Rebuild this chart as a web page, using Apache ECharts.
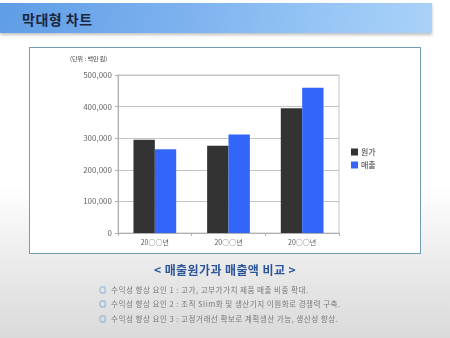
<!DOCTYPE html>
<html><head><meta charset="utf-8">
<script src="https://cdn.jsdelivr.net/npm/echarts@6/dist/echarts.min.js"></script>
<style>
html,body{margin:0;padding:0;width:450px;height:338px;overflow:hidden;font-family:"Noto Sans CJK KR",sans-serif;}
body{background:linear-gradient(to bottom,#ffffff 0%,#ffffff 55%,#e9e9e9 80%,#dadada 100%);position:relative;}
#hdr{position:absolute;left:0;top:3px;width:432px;height:30px;
background:linear-gradient(100deg,#5f9de6 0%,#7fb3ef 45%,#93c3f5 70%,#a9d2f8 100%);
box-shadow:0 2px 3px rgba(0,0,0,0.25);}
#hdr span{position:absolute;left:22px;top:6px;font-size:14px;font-weight:bold;color:#1b2640;letter-spacing:0.5px;}
#box{position:absolute;left:29px;top:47px;width:390px;height:205px;background:#fff;border:1.5px solid #6f9fb4;}
#chart{position:absolute;left:0;top:0;width:450px;height:338px;}
#sub{position:absolute;left:0;width:450px;top:261px;text-align:center;font-size:12px;font-weight:bold;color:#2b559a;letter-spacing:0.4px;}
.b{position:absolute;left:99px;font-size:7.6px;color:#7a7a7a;white-space:nowrap;letter-spacing:0.45px;}
.b i{font-style:normal;color:#4a84d6;margin-right:4px;}
</style></head>
<body>
<div id="hdr"><span>막대형 차트</span></div>
<div id="box"></div>
<div id="chart"></div>
<div id="sub">&lt; 매출원가과 매출액 비교 &gt;</div>
<div class="b" style="top:284px"><i>◎</i>수익성 향상 요인 1 : 고가, 고부가가치 제품 매출 비중 확대.</div>
<div class="b" style="top:298px"><i>◎</i>수익성 향상 요인 2 : 조직 Slim화 및 생산기지 이원화로 경쟁력 구축.</div>
<div class="b" style="top:313px"><i>◎</i>수익성 향상 요인 3 : 고정거래선 확보로 계획생산 가능, 생산성 향상.</div>
<script>
var categories = ['20○○년', '20○○년', '20○○년'];
var costValues = [295000, 276000, 395000];
var salesValues = [265000, 312000, 460000];
var seriesNames = ['원가', '매출'];
var unitLabel = '(단위 : 백만 원)';

var chart = echarts.init(document.getElementById('chart'), null, {renderer: 'canvas'});
var font = '"Noto Sans CJK KR", sans-serif';
chart.setOption({
  backgroundColor: 'transparent',
  animation: false,
  textStyle: {fontFamily: font},
  grid: {left: 118, right: 111, top: 75, bottom: 105, show: true, borderColor: '#c4c4c4', borderWidth: 1},
  legend: {
    orient: 'vertical', left: 346, top: 143, itemWidth: 7, itemHeight: 7, itemGap: 5,
    icon: 'rect', textStyle: {fontSize: 8, color: '#333', fontFamily: font, padding: [0, 0, 0, -2]},
    data: seriesNames
  },
  graphic: [{type: 'text', left: 70, top: 56, style: {text: unitLabel, fontSize: 6, fill: '#444', fontFamily: font}}],
  xAxis: {
    type: 'category', data: categories,
    axisLine: {lineStyle: {color: '#b0b0b0'}},
    axisTick: {show: true, length: 3, lineStyle: {color: '#b0b0b0'}},
    axisLabel: {fontSize: 7, color: '#555', margin: 6, fontFamily: font}
  },
  yAxis: {
    type: 'value', min: 0, max: 500000, interval: 100000,
    axisLine: {show: true, lineStyle: {color: '#b0b0b0'}},
    axisTick: {show: true, length: 3, lineStyle: {color: '#b0b0b0'}},
    splitLine: {lineStyle: {color: '#c4c4c4'}},
    axisLabel: {fontSize: 8, color: '#666', margin: 6, fontFamily: font,
      formatter: function (v) { return v.toLocaleString('en-US'); }}
  },
  series: [
    {name: seriesNames[0], type: 'bar', data: costValues, barGap: '0%', barCategoryGap: '42%', itemStyle: {color: '#333333'}},
    {name: seriesNames[1], type: 'bar', data: salesValues, itemStyle: {color: '#3366f8'}}
  ]
});
</script>
</body></html>
